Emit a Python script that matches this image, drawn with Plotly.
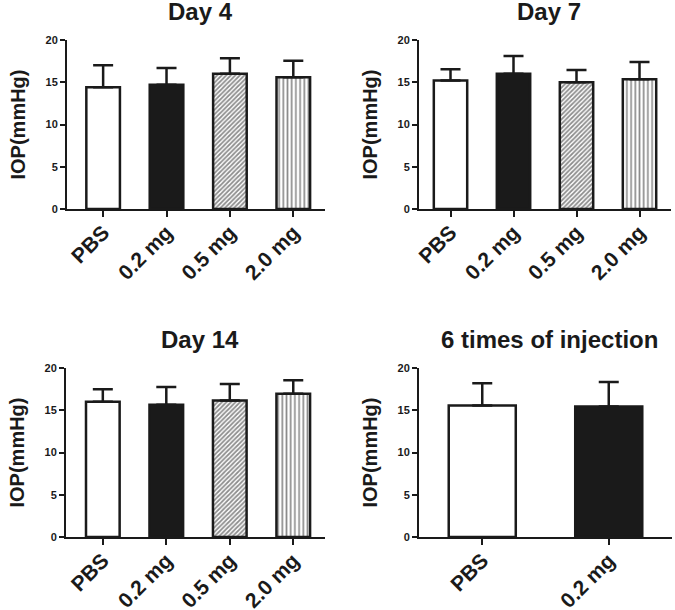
import plotly.graph_objects as go

# IOP values (mean and upper SD)
groups = ['PBS', '0.2 mg', '0.5 mg', '2.0 mg']
day4 = [14.4, 14.7, 16.0, 15.6]
day4_err = [2.6, 2.0, 1.85, 1.95]
day7 = [15.2, 16.0, 15.0, 15.35]
day7_err = [1.35, 2.1, 1.45, 2.05]
day14 = [16.0, 15.65, 16.15, 16.95]
day14_err = [1.5, 2.1, 1.95, 1.6]
inj_groups = ['PBS', '0.2 mg']
inj6 = [15.55, 15.45]
inj6_err = [2.65, 2.9]

titles = ['Day 4', 'Day 7', 'Day 14', '6 times of injection']

# bar fill styles per group
fills = {
    'PBS': dict(color='white'),
    '0.2 mg': dict(color='#1a1a1a'),
    '0.5 mg': dict(color='white', pattern=dict(shape='/', fgcolor='#1a1a1a',
                                                bgcolor='white', size=3.2, solidity=0.55)),
    '2.0 mg': dict(color='white', pattern=dict(shape='|', fgcolor='#1a1a1a',
                                                bgcolor='white', size=4.2, solidity=0.4)),
}

W, H = 675, 610
# panel boxes in page pixels: x0, x1, y_top, y_bottom, x range
panels = [
    (67, 325, 40, 209, [-0.57, 3.5]),
    (419, 671, 40, 209, [-0.5, 3.5]),
    (66, 325, 368, 537, [-0.58, 3.5]),
    (419, 672, 368, 537, [-0.5, 1.5]),
]
data_sets = [(groups, day4, day4_err), (groups, day7, day7_err),
             (groups, day14, day14_err), (inj_groups, inj6, inj6_err)]


def px(x):
    return x / W


def py(y):
    return 1 - y / H


font = 'Liberation Sans, Arial, sans-serif'
fig = go.Figure()
layout = dict(width=W, height=H, margin=dict(l=0, r=0, t=0, b=0, autoexpand=False),
              plot_bgcolor='white', paper_bgcolor='white', showlegend=False,
              font=dict(family=font, color='#1a1a1a'))
annotations = []

for i, ((cats, vals, errs), (x0, x1, yt, yb, xr)) in enumerate(zip(data_sets, panels)):
    n = '' if i == 0 else str(i + 1)
    for j, (c, v, e) in enumerate(zip(cats, vals, errs)):
        fig.add_trace(go.Bar(
            x=[j], y=[v], width=0.53,
            marker=dict(line=dict(color='#1a1a1a', width=2.5), **fills[c]),
            error_y=dict(type='data', array=[e], arrayminus=[0], symmetric=False,
                         color='#1a1a1a', thickness=2.5, width=10),
            xaxis='x' + n, yaxis='y' + n))
    layout['xaxis' + n] = dict(
        domain=[px(x0), px(x1)], anchor='y' + n, range=xr, automargin=False,
        tickvals=list(range(len(cats))), ticktext=cats, tickangle=-45,
        ticks='outside', ticklen=6, tickwidth=2, tickcolor='#1a1a1a',
        ticklabelstandoff=-5,
        showline=True, linecolor='#1a1a1a', linewidth=2, showgrid=False,
        zeroline=False, tickfont=dict(size=21, weight='bold', family=font))
    layout['yaxis' + n] = dict(
        domain=[py(yb), py(yt)], anchor='x' + n, range=[0, 20],
        automargin=False,
        tickvals=[0, 5, 10, 15, 20], ticks='outside', ticklen=5, tickwidth=2,
        tickcolor='#1a1a1a', showline=True, linecolor='#1a1a1a', linewidth=2,
        showgrid=False, zeroline=False,
        tickfont=dict(size=11, weight='bold', family=font))
    annotations.append(dict(
        text='<b>' + titles[i] + '</b>', xref='paper', yref='paper',
        x=px((x0 + x1) / 2 + 4), y=py(yt - 28), showarrow=False,
        font=dict(size=24), xanchor='center', yanchor='middle'))
    annotations.append(dict(
        text='<b>IOP(mmHg)</b>', xref='paper', yref='paper',
        x=px(x0 - 50), y=py((yt + yb) / 2), showarrow=False,
        textangle=-90, font=dict(size=20), xanchor='center', yanchor='middle'))

layout['annotations'] = annotations
fig.update_layout(**layout)
# drop the default 8px page margin so the figure fills the window
fig.write_html('out.html', config={'displayModeBar': False},
               post_script="document.body.style.margin='0px';")
